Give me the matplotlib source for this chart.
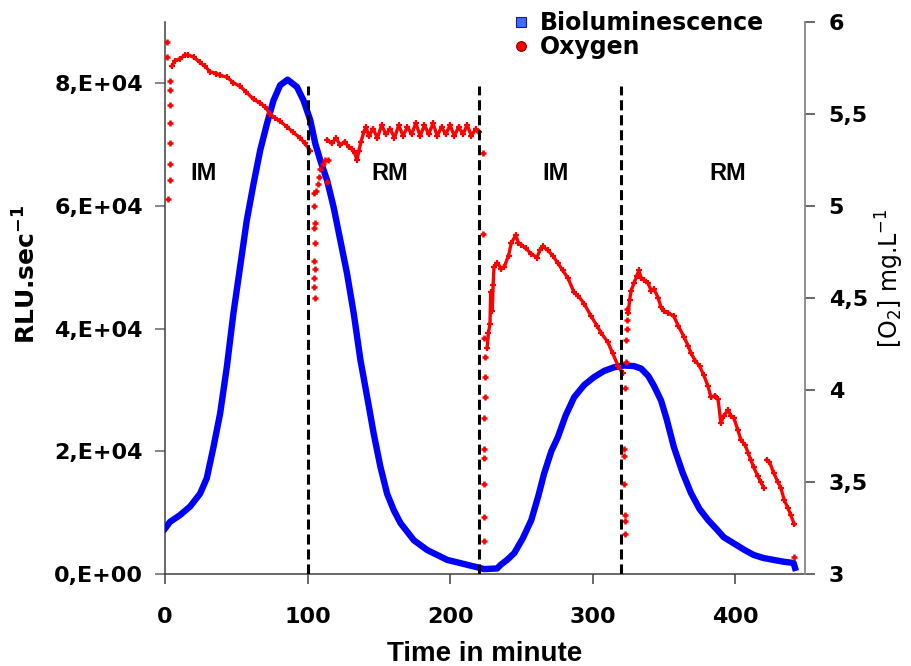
import numpy as np
import matplotlib.pyplot as plt
from matplotlib.lines import Line2D

# Bioluminescence (RLU.sec-1), left axis, values in thousands
lum_t = [0, 3.5, 10.5, 17.6, 24.6, 29.3, 34.0, 38.7, 43.4, 48.0, 52.7, 57.4, 62.1, 66.8,
         71.5, 76.1, 80.8, 86.0, 92.6, 97.2, 101.9, 105.4, 109, 113.7, 118.3, 123, 127.7,
         132.4, 137.1, 141.8, 146.4, 151.1, 155.8, 160.5, 165.2, 174.6, 184, 198, 212, 219,
         223.8, 233, 235.5, 240, 245, 251, 257, 262, 266, 271, 275.6, 281, 287, 294, 301, 308,
         315, 322, 329, 334, 339, 343, 348, 352, 357, 363, 369, 375, 381, 387, 392, 399, 406,
         413, 420, 427, 434, 441, 442]
lum_v = [7.4, 8.5, 9.6, 11.0, 13.1, 15.6, 20.7, 26.2, 33.8, 42.5, 50.1, 57.7, 63.6, 69.1,
         73.4, 77.2, 79.7, 80.6, 79.4, 77.2, 74.0, 70.2, 67.4, 64.2, 59.8, 54.4, 49.0,
         42.5, 34.9, 28.9, 22.9, 17.5, 13.1, 10.4, 8.3, 5.5, 3.9, 2.3, 1.5, 1.1,
         0.8, 0.9, 1.5, 2.3, 3.4, 5.8, 8.8, 12.8, 16.4, 20.0, 22.3, 25.8, 28.8, 30.8, 32.1, 33.1,
         33.7, 34.0, 33.9, 33.5, 32.3, 30.7, 28.3, 25.2, 20.7, 16.6, 13.2, 10.6, 8.8, 7.3, 6.0,
         5.0, 4.0, 3.1, 2.6, 2.3, 2.0, 1.8, 1.0]
lum_v = [v * 1000 for v in lum_v]

# Oxygen [O2] mg/L, right axis - continuous traces
ox_t1 = [4.8, 7, 10.5, 14, 16.4, 20, 24.6, 28, 31.6, 36, 38.7, 43.5, 48, 52.7, 57, 62.1,
         66.8, 70, 73.8, 77, 80.8, 85.6, 90, 94.9, 98, 102]
ox_v1 = [5.76, 5.79, 5.80, 5.82, 5.82, 5.81, 5.78, 5.76, 5.73, 5.72, 5.71, 5.70, 5.67, 5.65,
         5.62, 5.58, 5.56, 5.54, 5.50, 5.48, 5.46, 5.43, 5.40, 5.37, 5.34, 5.30]
ox_t2 = [114, 117, 120, 123, 126, 129, 131, 133, 134.7, 136, 137.5, 139.4, 141, 143, 146, 149,
         152, 155, 158, 161, 164, 167, 170, 173, 176, 179, 182, 185, 188, 191, 194, 197, 200,
         203, 206, 209, 212, 215, 218, 220]
ox_v2 = [5.36, 5.34, 5.37, 5.33, 5.35, 5.32, 5.31, 5.29, 5.25, 5.30, 5.35, 5.40, 5.43, 5.38,
         5.42, 5.37, 5.44, 5.39, 5.42, 5.37, 5.44, 5.38, 5.43, 5.39, 5.45, 5.38, 5.44, 5.39,
         5.45, 5.38, 5.43, 5.39, 5.44, 5.38, 5.43, 5.39, 5.44, 5.38, 5.42, 5.40]
ox_t3 = [226, 226.9, 228, 228.5, 229.6, 230.2, 230.8, 233.2, 236, 238, 241, 243, 246, 248,
         250, 253, 257, 261, 263, 265, 268.5, 272, 275.6, 279, 282.6, 287, 290, 294, 299, 303,
         306, 310.7, 314, 318, 321]
ox_v3 = [4.23, 4.31, 4.36, 4.53, 4.43, 4.57, 4.67, 4.69, 4.66, 4.67, 4.73, 4.80, 4.84, 4.80,
         4.79, 4.77, 4.74, 4.72, 4.76, 4.78, 4.76, 4.73, 4.69, 4.65, 4.61, 4.53, 4.51, 4.47,
         4.40, 4.35, 4.31, 4.26, 4.20, 4.13, 4.09]
ox_t4 = [325, 326, 327, 329, 331, 332.5, 334, 336, 339, 341, 343, 346, 348, 350, 353, 357,
         360, 364, 367, 369, 372, 375, 378, 381, 383, 386, 388, 390, 392, 395, 397, 399, 402,
         404, 407, 409, 411, 413, 416, 418, 420]
ox_v4 = [4.42, 4.49, 4.54, 4.58, 4.62, 4.65, 4.61, 4.60, 4.58, 4.54, 4.55, 4.50, 4.45, 4.43,
         4.42, 4.40, 4.35, 4.29, 4.24, 4.20, 4.16, 4.13, 4.08, 4.02, 3.96, 3.97, 3.95, 3.82,
         3.86, 3.89, 3.86, 3.85, 3.78, 3.73, 3.70, 3.66, 3.62, 3.58, 3.53, 3.50, 3.47]
ox_t5 = [422, 424, 427, 430, 432, 434.5, 437, 439, 441.5]
ox_v5 = [3.62, 3.61, 3.55, 3.50, 3.47, 3.40, 3.36, 3.32, 3.27]

# Oxygen - isolated readings (probe transitions)
pts_t = [1.2, 1.2, 3.3, 3.5, 3.5, 3.3, 3.5, 3.3, 3.3, 2.0,
         104.3, 104.3, 105.4, 104.3, 105.4, 104.3, 105.4, 104.3, 104.3, 105.4,
         106.1, 107.1, 107.8, 109, 111, 112.5, 113.6, 114.3,
         222.8, 223.3, 224.3, 224.3, 224.3, 224.0, 223.8, 223.8, 223.8, 223.8, 223.8, 224.0,
         322.2, 322.2, 322.2, 322.5, 322.5, 323, 323, 323.5, 323.5, 324, 324, 324,
         441.5]
pts_v = [5.89, 5.81, 5.68, 5.63, 5.55, 5.45, 5.34, 5.23, 5.14, 5.04,
         5.07, 5.00, 4.91, 4.88, 4.80, 4.70, 4.66, 4.61, 4.56, 4.50,
         5.08, 5.12, 5.16, 5.20, 5.23, 5.25, 5.13, 5.25,
         5.29, 4.85, 4.18, 4.07, 3.96, 3.85, 3.68, 3.63, 3.49, 3.31, 3.18, 4.28,
         3.68, 3.64, 3.49, 3.32, 3.29, 3.22, 4.01, 4.15, 4.27, 4.33, 4.38, 4.44,
         3.09]

phase_t = [100, 220, 320]
phase_lab = ['IM', 'RM', 'IM', 'RM']
phase_lab_t = [27, 158, 274, 395]

fig = plt.figure(figsize=(9.12, 6.66), dpi=100)
ax = fig.add_axes([165 / 912, 92 / 666, 640 / 912, 552 / 666])
ax2 = ax.twinx()

ax.plot(lum_t, lum_v, color='#0000ff', lw=4.6, solid_joinstyle='round', zorder=3)

red = '#ff0000'
for tt, vv in [(ox_t1, ox_v1), (ox_t2, ox_v2), (ox_t3, ox_v3), (ox_t4, ox_v4), (ox_t5, ox_v5)]:
    ax2.plot(tt, vv, color=red, lw=2.4, marker='+', ms=5, mew=1.6, zorder=3)
ax2.plot(pts_t, pts_v, ls='none', color=red, marker='+', ms=5, mew=1.8, zorder=3)

# phase boundaries
ax2.vlines(phase_t, 3, 5.65, colors='black', linestyles=(0, (3.3, 1.6)), lw=2.2, zorder=5)

for lab, tt in zip(phase_lab, phase_lab_t):
    ax.text(tt, 65300, lab, ha='center', va='center', fontsize=17,
            fontweight='bold', family='Liberation Sans')

ax.set_xlim(0, 449)
ax.set_ylim(0, 90000)
ax2.set_ylim(3, 6)

ax.set_xticks([0, 100, 200, 300, 400])
ax.set_xticklabels(['0', '100', '200', '300', '400'])
ax.set_yticks([0, 20000, 40000, 60000, 80000])
ax.set_yticklabels(['0,E+00', '2,E+04', '4,E+04', '6,E+04', '8,E+04'])
ax2.set_yticks([3, 3.5, 4, 4.5, 5, 5.5, 6])
ax2.set_yticklabels(['3', '3,5', '4', '4,5', '5', '5,5', '6'])

for a in (ax, ax2):
    a.spines['top'].set_visible(False)
    for lbl in a.get_xticklabels() + a.get_yticklabels():
        lbl.set_fontsize(16)
        lbl.set_fontweight('bold')
ax.spines['right'].set_visible(False)
ax2.spines['left'].set_visible(False)
ax2.spines['bottom'].set_visible(False)
ax.spines['left'].set_color('#404040')
ax.spines['bottom'].set_color('#404040')
ax2.spines['right'].set_color('#888888')
for s in ('left', 'bottom'):
    ax.spines[s].set_linewidth(1.1)
ax2.spines['right'].set_linewidth(1.3)

ax.tick_params(axis='y', direction='out', length=7, width=1.1, color='#666666', pad=9)
ax.tick_params(axis='x', direction='out', length=7, width=1.1, color='#404040', pad=17)
ax2.tick_params(axis='y', direction='out', length=7, width=1.1, color='#404040', pad=10)

fig.text(27 / 912, 1 - 274 / 666, r'RLU.sec$^{\mathbf{-1}}$', rotation=90, ha='center',
         va='center', fontsize=18, fontweight='bold')
fig.text(890 / 912, 1 - 278 / 666, r'[O$_2$] mg.L$^{-1}$', rotation=90, ha='center',
         va='center', fontsize=17)
fig.text(485 / 912, 1 - 661 / 666, 'Time in minute', ha='center', va='baseline',
         fontsize=20, fontweight='bold', family='Liberation Sans')

handles = [Line2D([], [], ls='none', marker='s', ms=7, mfc='#3b6cff', mec='#1a1a80', mew=0.8),
           Line2D([], [], ls='none', marker='o', ms=7, mfc='#ff0000', mec='#800000', mew=0.8)]
fig.legend(handles, ['Bioluminescence', 'Oxygen'], loc='upper left',
           bbox_to_anchor=(512 / 912, 1 - 11 / 666), frameon=False, borderpad=0,
           borderaxespad=0, handlelength=0.8, handletextpad=0.4, labelspacing=0.0,
           prop={'size': 17, 'weight': 'bold'})

fig.savefig('out.png', dpi=100)
